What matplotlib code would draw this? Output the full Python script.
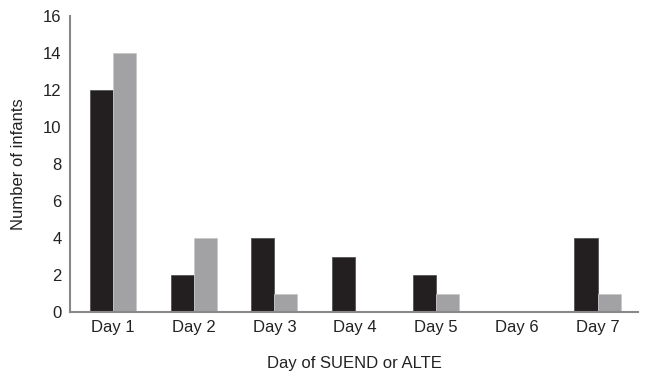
import numpy as np
import matplotlib
matplotlib.use("Agg")
import matplotlib.pyplot as plt

plt.rcParams["font.family"] = ["Liberation Sans", "DejaVu Sans"]

days = ["Day 1", "Day 2", "Day 3", "Day 4", "Day 5", "Day 6", "Day 7"]
suend = [12, 2, 4, 3, 2, 0, 4]
alte = [14, 4, 1, 0, 1, 0, 1]

fig = plt.figure(figsize=(6.45, 3.76), dpi=100)
ax = fig.add_axes([0.1085, 0.17, 0.8805, 0.787])

x = np.arange(len(days))
w = 0.285
ax.bar(x - w / 2, suend, w, color="#231f20", edgecolor="#555555", linewidth=0.6)
ax.bar(x + w / 2, alte, w, color="#a2a2a4", edgecolor="#c8c8c8", linewidth=0.6)

ax.set_xlim(-0.53, 6.5)
ax.set_ylim(0, 16)
ax.set_yticks(range(0, 17, 2))
ax.set_xticks(x)
ax.set_xticklabels(days)
ax.tick_params(length=0, labelsize=12, colors="#222222", pad=6)
for s in ["top", "right"]:
    ax.spines[s].set_visible(False)
for s in ["left", "bottom"]:
    ax.spines[s].set_color("#888888")
    ax.spines[s].set_linewidth(1.5)

ax.set_xlabel("Day of SUEND or ALTE", fontsize=12, color="#222222", labelpad=15)
ax.set_ylabel("Number of infants", fontsize=12, color="#222222", labelpad=12)

fig.savefig("out.png", dpi=100)
